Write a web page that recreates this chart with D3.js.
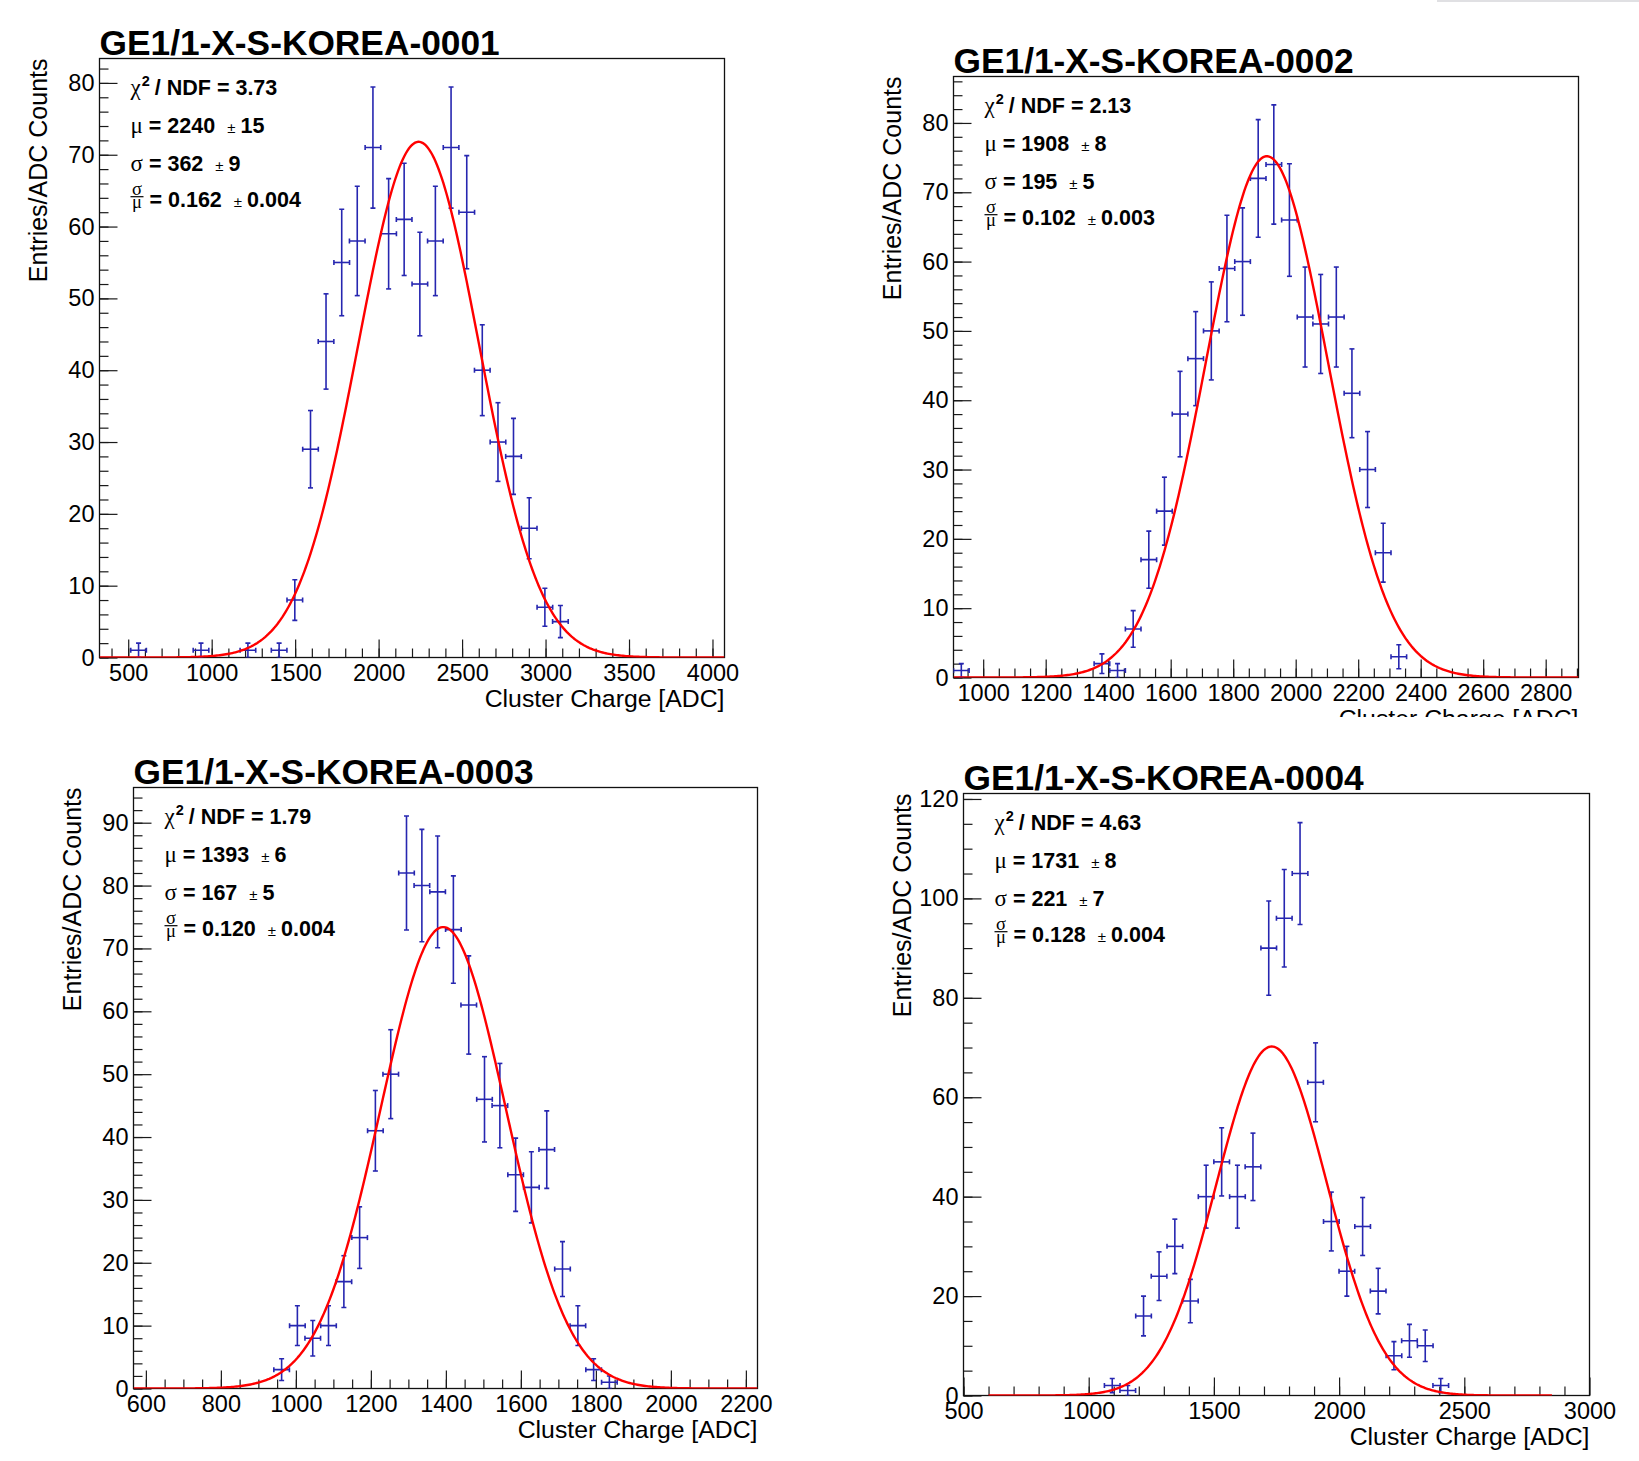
<!DOCTYPE html>
<html>
<head>
<meta charset="utf-8">
<script src="https://cdn.jsdelivr.net/npm/d3@7"></script>
<style>
  body { margin: 0; background: #fff; }
  svg { display: block; }
</style>
</head>
<body>
<svg id="chart" width="1639" height="1461"></svg>
<script>
// ---- values ----
const titles = ["GE1/1-X-S-KOREA-0001", "GE1/1-X-S-KOREA-0002", "GE1/1-X-S-KOREA-0003", "GE1/1-X-S-KOREA-0004"];

const centers1 = [562, 936, 1217, 1404, 1498, 1592, 1685, 1779, 1872, 1966, 2060, 2153, 2247, 2340, 2434, 2528, 2621, 2715, 2808, 2902, 2996, 3089];
const counts1  = [1, 1, 1, 1, 8, 29, 44, 55, 58, 71, 59, 61, 52, 58, 71, 62, 40, 30, 28, 18, 7, 5];

const centers2 = [930, 1380, 1430, 1480, 1530, 1580, 1630, 1680, 1730, 1780, 1830, 1880, 1930, 1980, 2030, 2080, 2130, 2180, 2230, 2280, 2330];
const counts2  = [1, 2, 1, 7, 17, 24, 38, 46, 50, 59, 60, 72, 74, 66, 52, 51, 52, 41, 30, 18, 3];

const centers3 = [962, 1004, 1045, 1087, 1128, 1170, 1212, 1253, 1295, 1336, 1378, 1420, 1461, 1503, 1544, 1586, 1628, 1669, 1711, 1752, 1794, 1836];
const counts3  = [3, 10, 8, 10, 17, 24, 41, 50, 82, 80, 79, 73, 61, 46, 45, 34, 32, 38, 19, 10, 3, 1];

const centers4 = [1094, 1156, 1219, 1281, 1344, 1406, 1469, 1531, 1594, 1656, 1719, 1781, 1844, 1906, 1969, 2031, 2094, 2156, 2219, 2281, 2344, 2406];
const counts4  = [2, 1, 16, 24, 30, 19, 40, 47, 40, 46, 90, 96, 105, 63, 35, 25, 34, 21, 8, 11, 10, 2];

const binWidth = [93.6, 50, 41.6, 62.5];
const xDomains = [[328, 4072], [905, 2905], [567, 2231], [500, 3000]];
const yMaxes   = [83.4, 86.7, 95.6, 121.1];

// gaussian fit results
const fitAmp   = [71.8, 75.2, 73.4, 70.2];
const fitMean  = [2240, 1908, 1393, 1731];
const fitSigma = [362, 195, 167, 221];
const fitRange = [[328, 4072], [905, 2905], [567, 2231], [600, 2850]];

// stats box text
const chi2Txt     = ["3.73", "2.13", "1.79", "4.63"];
const muTxt       = ["2240", "1908", "1393", "1731"];
const muErrTxt    = ["15", "8", "6", "8"];
const sigmaTxt    = ["362", "195", "167", "221"];
const sigmaErrTxt = ["9", "5", "5", "7"];
const ratioTxt    = ["0.162", "0.102", "0.120", "0.128"];
const ratioErrTxt = ["0.004", "0.003", "0.004", "0.004"];

// tick labels
const xTicks = [
  [500, 1000, 1500, 2000, 2500, 3000, 3500, 4000],
  [1000, 1200, 1400, 1600, 1800, 2000, 2200, 2400, 2600, 2800],
  [600, 800, 1000, 1200, 1400, 1600, 1800, 2000, 2200],
  [500, 1000, 1500, 2000, 2500, 3000]
];
const yTicks = [
  [0, 10, 20, 30, 40, 50, 60, 70, 80],
  [0, 10, 20, 30, 40, 50, 60, 70, 80],
  [0, 10, 20, 30, 40, 50, 60, 70, 80, 90],
  [0, 20, 40, 60, 80, 100, 120]
];
const xMinorStep = [100, 50, 50, 100];
const yMinorStep = [2, 2, 2, 5];

// ---- layout (frame boxes in page pixels) ----
const frames = [
  { L: 99.5,  T: 58.5,  R: 724.5,  B: 657.5 },
  { L: 953.5, T: 76.5,  R: 1578.5, B: 677.5 },
  { L: 133.5, T: 787.5, R: 757.5,  B: 1388.5 },
  { L: 963.5, T: 793.5, R: 1589.5, B: 1395.5 }
];

const centers = [centers1, centers2, centers3, centers4];
const counts = [counts1, counts2, counts3, counts4];

const sans = "'Liberation Sans', Arial, Helvetica, sans-serif";
const serif = "'Liberation Serif', 'Times New Roman', serif";
const blue = "#2626b0";

const svg = d3.select("#chart");

svg.append("rect").attr("width", 1639).attr("height", 1461).attr("fill", "#fff");

// faint line at the top right edge of the screenshot
svg.append("line")
  .attr("x1", 1437).attr("x2", 1639).attr("y1", 1).attr("y2", 1)
  .attr("stroke", "#d6d6da").attr("stroke-width", 1.5);

// panel 2 was cut off at the bottom in the original
svg.append("clipPath").attr("id", "cut2")
  .append("rect").attr("x", 860).attr("y", 0).attr("width", 779).attr("height", 717);

frames.forEach((f, i) => drawPanel(i, f));

function drawPanel(i, f) {
  const g = svg.append("g");
  if (i === 1) g.attr("clip-path", "url(#cut2)");

  const x = d3.scaleLinear().domain(xDomains[i]).range([f.L, f.R]);
  const y = d3.scaleLinear().domain([0, yMaxes[i]]).range([f.B, f.T]);

  const clipId = "frame" + i;
  g.append("clipPath").attr("id", clipId)
    .append("rect").attr("x", f.L).attr("y", f.T).attr("width", f.R - f.L).attr("height", f.B - f.T);

  // minor ticks
  const xMinor = d3.range(Math.ceil(xDomains[i][0] / xMinorStep[i]) * xMinorStep[i], xDomains[i][1], xMinorStep[i]);
  const yMinor = d3.range(0, yMaxes[i], yMinorStep[i]);

  g.append("g")
    .attr("transform", `translate(0,${f.B})`)
    .call(d3.axisBottom(x).tickValues(xMinor).tickSize(-9).tickFormat(""))
    .call(a => a.select(".domain").remove());

  g.append("g")
    .attr("transform", `translate(${f.L},0)`)
    .call(d3.axisLeft(y).tickValues(yMinor).tickSize(-9).tickFormat(""))
    .call(a => a.select(".domain").remove());

  // major ticks and labels
  const xAxis = g.append("g")
    .attr("transform", `translate(0,${f.B})`)
    .call(d3.axisBottom(x).tickValues(xTicks[i]).tickSize(-18).tickPadding(7).tickFormat(d3.format("d")));
  xAxis.select(".domain").remove();

  const yAxis = g.append("g")
    .attr("transform", `translate(${f.L},0)`)
    .call(d3.axisLeft(y).tickValues(yTicks[i]).tickSize(-18).tickPadding(5).tickFormat(d3.format("d")));
  yAxis.select(".domain").remove();

  g.selectAll(".tick line").attr("stroke", "#1a1a1a").attr("stroke-width", 1.2);
  g.selectAll(".tick text")
    .attr("font-family", sans).attr("font-size", 23.5).attr("fill", "#000");

  // frame
  g.append("rect")
    .attr("x", f.L).attr("y", f.T).attr("width", f.R - f.L).attr("height", f.B - f.T)
    .attr("fill", "none").attr("stroke", "#111").attr("stroke-width", 1.3);

  // title
  g.append("text")
    .attr("x", f.L).attr("y", f.T - 4)
    .attr("font-family", sans).attr("font-weight", "bold").attr("font-size", 35.3)
    .text(titles[i]);

  // axis titles
  g.append("text")
    .attr("x", f.R).attr("y", f.B + 49)
    .attr("text-anchor", "end")
    .attr("font-family", sans).attr("font-size", 24.8)
    .text("Cluster Charge [ADC]");

  g.append("text")
    .attr("transform", `translate(${f.L - 53},${f.T}) rotate(-90)`)
    .attr("text-anchor", "end")
    .attr("font-family", sans).attr("font-size", 25)
    .text("Entries/ADC Counts");

  // data points with error bars
  const pts = centers[i].map((c, k) => ({ c: c, n: counts[i][k], e: Math.sqrt(counts[i][k]) }));
  const hw = binWidth[i] / 2;
  const pg = g.append("g").attr("clip-path", `url(#${clipId})`)
    .attr("stroke", blue).attr("stroke-width", 1.6).attr("fill", "none");

  pts.forEach(d => {
    const cx = x(d.c), cy = y(d.n);
    const x0 = x(d.c - hw), x1 = x(d.c + hw);
    const yt = y(d.n + d.e), yb = y(d.n - d.e);
    pg.append("line").attr("x1", x0).attr("x2", x1).attr("y1", cy).attr("y2", cy);
    pg.append("line").attr("x1", cx).attr("x2", cx).attr("y1", yt).attr("y2", yb);
    // end caps
    pg.append("line").attr("x1", x0).attr("x2", x0).attr("y1", cy - 2.5).attr("y2", cy + 2.5);
    pg.append("line").attr("x1", x1).attr("x2", x1).attr("y1", cy - 2.5).attr("y2", cy + 2.5);
    pg.append("line").attr("x1", cx - 2.5).attr("x2", cx + 2.5).attr("y1", yt).attr("y2", yt);
    pg.append("line").attr("x1", cx - 2.5).attr("x2", cx + 2.5).attr("y1", yb).attr("y2", yb);
  });

  // gaussian fit curve from the fit parameters
  const [a, b] = fitRange[i];
  const xs = d3.range(0, 401).map(k => a + (b - a) * k / 400);
  const gauss = v => fitAmp[i] * Math.exp(-0.5 * Math.pow((v - fitMean[i]) / fitSigma[i], 2));
  const line = d3.line().x(v => x(v)).y(v => y(gauss(v)));
  g.append("path")
    .attr("clip-path", `url(#${clipId})`)
    .attr("d", line(xs))
    .attr("fill", "none").attr("stroke", "#ff0000").attr("stroke-width", 2.4);

  // stats text
  const sx = f.L + 31;
  const st = g.append("g").attr("font-family", sans).attr("font-weight", "bold").attr("font-size", 21.5);

  const l1 = st.append("text").attr("x", sx).attr("y", f.T + 36.5);
  l1.append("tspan").attr("font-family", serif).attr("font-weight", "normal").attr("font-size", 23).text("χ");
  l1.append("tspan").attr("font-size", 14.5).attr("dy", -9).attr("dx", 1).text("2");
  l1.append("tspan").attr("dy", 9).attr("dx", 5).text("/ NDF = " + chi2Txt[i]);

  const l2 = st.append("text").attr("x", sx).attr("y", f.T + 74.8);
  l2.append("tspan").attr("font-family", serif).attr("font-weight", "normal").attr("font-size", 23).text("μ");
  l2.append("tspan").attr("dx", 6).text("= " + muTxt[i]);
  l2.append("tspan").attr("dx", 12).attr("font-weight", "normal").attr("font-size", 15).text("±");
  l2.append("tspan").attr("dx", 5).text(muErrTxt[i]);

  const l3 = st.append("text").attr("x", sx).attr("y", f.T + 112.5);
  l3.append("tspan").attr("font-family", serif).attr("font-weight", "normal").attr("font-size", 23).text("σ");
  l3.append("tspan").attr("dx", 6).text("= " + sigmaTxt[i]);
  l3.append("tspan").attr("dx", 12).attr("font-weight", "normal").attr("font-size", 15).text("±");
  l3.append("tspan").attr("dx", 5).text(sigmaErrTxt[i]);

  // sigma over mu, one text with two stacked tspans
  const yb4 = f.T + 148.2;
  const frac = st.append("text").attr("text-anchor", "middle")
    .attr("font-family", serif).attr("font-weight", "normal").attr("font-size", 18.5);
  frac.append("tspan").attr("x", sx + 6.5).attr("y", yb4 - 11.5).text("σ");
  frac.append("tspan").attr("x", sx + 6.5).attr("y", yb4 + 1).text("μ");
  st.append("line").attr("x1", sx).attr("x2", sx + 13).attr("y1", yb4 - 10).attr("y2", yb4 - 10)
    .attr("stroke", "#000").attr("stroke-width", 1.2);
  const l4 = st.append("text").attr("x", sx + 19).attr("y", yb4);
  l4.append("tspan").text("= " + ratioTxt[i]);
  l4.append("tspan").attr("dx", 12).attr("font-weight", "normal").attr("font-size", 15).text("±");
  l4.append("tspan").attr("dx", 5).text(ratioErrTxt[i]);
}
</script>
</body>
</html>
